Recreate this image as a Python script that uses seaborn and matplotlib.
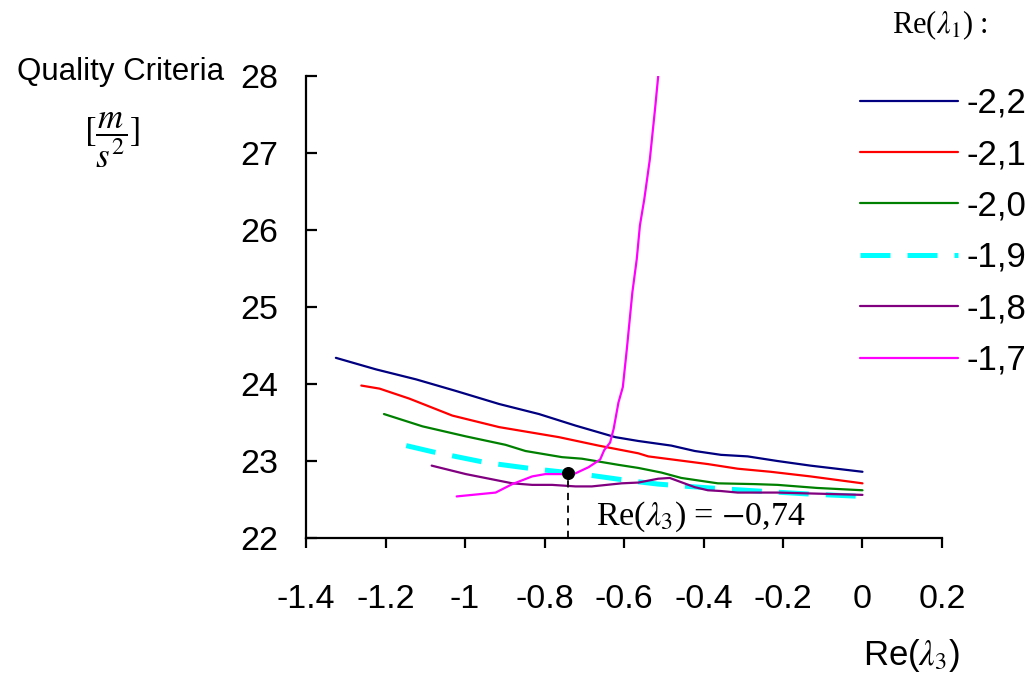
import matplotlib
matplotlib.use("Agg")
import matplotlib.pyplot as plt
import seaborn as sns
import pandas as pd

# Re(lambda_1) series: x = Re(lambda_3), y = quality criteria [m/s^2]
labels = ["-2,2", "-2,1", "-2,0", "-1,9", "-1,8", "-1,7"]
colors = ["#000080", "#ff0000", "#008000", "#00ffff", "#800080", "#ff00ff"]

x_22 = [-1.325, -1.224, -1.123, -1.023, -0.914, -0.814, -0.722, -0.622, -0.564,
        -0.481, -0.422, -0.356, -0.289, -0.214, -0.131, 0.0]
y_22 = [24.34, 24.19, 24.06, 23.91, 23.74, 23.61, 23.46, 23.31, 23.26,
        23.20, 23.13, 23.08, 23.06, 23.00, 22.94, 22.86]

x_21 = [-1.261, -1.215, -1.140, -1.032, -0.914, -0.764, -0.664, -0.564, -0.539,
        -0.464, -0.389, -0.314, -0.231, -0.131, 0.0]
y_21 = [23.98, 23.94, 23.81, 23.59, 23.44, 23.31, 23.20, 23.10, 23.06,
        23.01, 22.96, 22.90, 22.86, 22.80, 22.71]

x_20 = [-1.204, -1.107, -0.998, -0.898, -0.848, -0.756, -0.706, -0.614, -0.564,
        -0.506, -0.456, -0.364, -0.272, -0.214, -0.114, 0.0]
y_20 = [23.61, 23.45, 23.32, 23.21, 23.13, 23.05, 23.03, 22.95, 22.91,
        22.85, 22.78, 22.71, 22.70, 22.69, 22.65, 22.62]

x_19 = [-1.148, -1.082, -0.948, -0.831, -0.706, -0.581, -0.514, -0.439, -0.356,
        -0.231, -0.131, 0.0]
y_19 = [23.20, 23.12, 22.98, 22.90, 22.83, 22.74, 22.70, 22.67, 22.64,
        22.60, 22.57, 22.54]

x_18 = [-1.084, -0.998, -0.881, -0.831, -0.781, -0.722, -0.681, -0.606, -0.564,
        -0.514, -0.485, -0.464, -0.422, -0.389, -0.356, -0.314, -0.214, 0.0]
y_18 = [22.94, 22.83, 22.71, 22.69, 22.69, 22.67, 22.67, 22.71, 22.72,
        22.77, 22.78, 22.74, 22.66, 22.62, 22.61, 22.59, 22.59, 22.56]

x_17 = [-1.021, -0.923, -0.881, -0.831, -0.798, -0.748, -0.722, -0.689, -0.660,
        -0.650, -0.635, -0.626, -0.614, -0.603, -0.593, -0.579, -0.568, -0.560,
        -0.549, -0.535, -0.522, -0.514]
y_17 = [22.54, 22.59, 22.70, 22.80, 22.83, 22.83, 22.84, 22.92, 23.02,
        23.14, 23.24, 23.42, 23.76, 23.96, 24.45, 25.19, 25.62, 26.06,
        26.40, 26.92, 27.57, 28.00]

series_x = [x_22, x_21, x_20, x_19, x_18, x_17]
series_y = [y_22, y_21, y_20, y_19, y_18, y_17]

# optimum point on the -1,7 curve
opt_x = -0.74
opt_y = 22.84

x_ticks = [-1.4, -1.2, -1.0, -0.8, -0.6, -0.4, -0.2, 0.0, 0.2]
x_tick_labels = ["-1.4", "-1.2", "-1", "-0.8", "-0.6", "-0.4", "-0.2", "0", "0.2"]
y_ticks = [22, 23, 24, 25, 26, 27, 28]

sns.set_theme(style="white")
plt.rcParams["font.family"] = ["Liberation Sans", "DejaVu Sans"]
plt.rcParams["text.color"] = "black"
plt.rcParams["axes.labelcolor"] = "black"
plt.rcParams["xtick.color"] = "black"
plt.rcParams["ytick.color"] = "black"

fig = plt.figure(figsize=(10.34, 6.73), dpi=100)
ax = fig.add_axes([0.296, 0.2006, 0.615, 0.6864])

for xs, ys, lab, col in zip(series_x, series_y, labels, colors):
    df = pd.DataFrame({"x": xs, "y": ys})
    if lab == "-1,9":
        sns.lineplot(data=df, x="x", y="y", color=col, lw=3.6, label=lab,
                     ax=ax, estimator=None, sort=False)
        ax.lines[-1].set_dashes((6, 3.4))
    else:
        sns.lineplot(data=df, x="x", y="y", color=col, lw=1.6, label=lab,
                     ax=ax, estimator=None, sort=False)

ax.vlines(opt_x, 22, opt_y, colors="black", linestyles=(0, (4, 3)), lw=1.3)
ax.scatter([opt_x], [opt_y], s=70, color="black", zorder=5)
ax.text(opt_x + 0.07, 22.28, r"Re($\lambda_3$) = $-$0,74", fontsize=24.5,
        family="Liberation Serif", math_fontfamily="stix", va="center", ha="left")

ax.set_xlim(-1.4, 0.2)
ax.set_ylim(22, 28)
ax.set_xticks(x_ticks)
ax.set_xticklabels(x_tick_labels)
ax.set_yticks(y_ticks)
ax.set_xlabel("")
ax.set_ylabel("")

for side in ("top", "right"):
    ax.spines[side].set_visible(False)
for side in ("left", "bottom"):
    ax.spines[side].set_color("black")
    ax.spines[side].set_linewidth(1.6)

ax.tick_params(axis="x", direction="out", length=7, width=1.6, pad=26,
               labelsize=24.5, colors="black", bottom=True)
ax.tick_params(axis="y", direction="in", length=8, width=1.6, pad=20,
               labelsize=24.5, colors="black", left=True)

# axis titles
fig.text(121 / 1034, 1 - 72 / 673, "Quality Criteria", fontsize=22.5,
         ha="center", va="center")
fig.text(112 / 1034, 1 - 140 / 673, r"$[\dfrac{m}{s^2}]$", fontsize=25,
         math_fontfamily="stix", ha="center", va="center")
fig.text(960 / 1034, 1 - 655 / 673, r"Re($\lambda_3$)", fontsize=25,
         math_fontfamily="stix", ha="right", va="center")

leg = ax.legend(loc="upper left", bbox_to_anchor=(0.871, 0.977), frameon=False,
                fontsize=25, handlelength=2.82, handletextpad=0.26,
                labelspacing=0.53, borderaxespad=0, borderpad=0)
fig.text(940 / 1034, 1 - 25 / 673, r"Re($\lambda_1$) :", fontsize=22,
         family="Liberation Serif", math_fontfamily="stix",
         ha="center", va="center")

fig.savefig("out.png", dpi=100)
